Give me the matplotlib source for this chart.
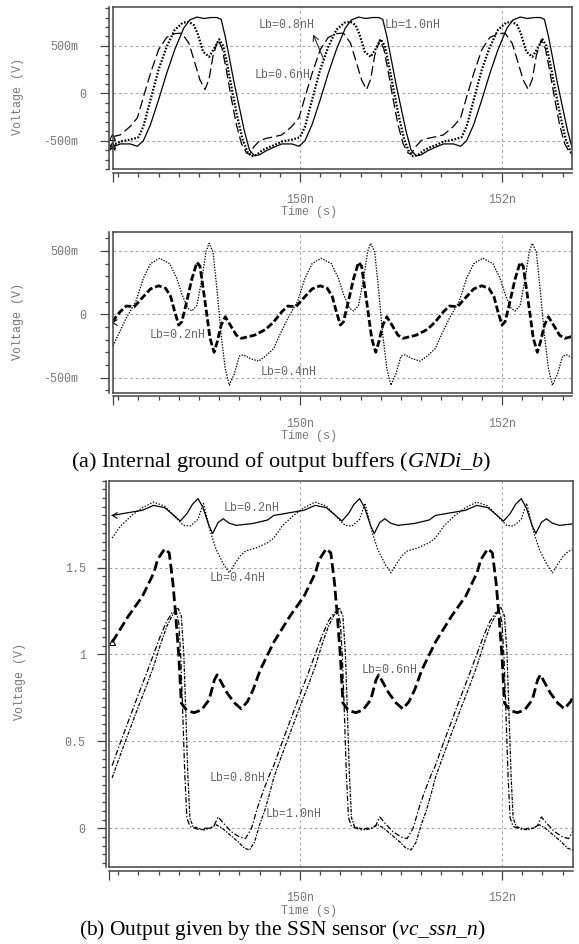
import matplotlib
matplotlib.use("Agg")
import matplotlib.pyplot as plt
from matplotlib.ticker import MultipleLocator, FixedLocator
from matplotlib.transforms import ScaledTranslation

plt.rcParams["font.family"] = "Liberation Mono"
plt.rcParams["lines.scale_dashes"] = False
plt.rcParams["mathtext.fontset"] = "custom"
plt.rcParams["mathtext.rm"] = "Liberation Serif"
plt.rcParams["mathtext.it"] = "Liberation Serif:italic"

# ---------------- panel (a) top: Lb = 1.0 / 0.8 / 0.6 nH
t_a10 = [148.14, 148.22, 148.32, 148.39, 148.45, 148.52, 148.60, 148.68, 148.76, 148.85, 148.91, 148.98, 149.05,
         149.12, 149.18, 149.22, 149.26, 149.30, 149.35, 149.40, 149.45, 149.50, 149.55, 149.60, 149.66,
         149.74, 149.82, 149.92, 149.99, 150.05, 150.12, 150.20, 150.28, 150.36, 150.45, 150.51, 150.58, 150.65,
         150.72, 150.78, 150.82, 150.86, 150.90, 150.95, 151.00, 151.05, 151.10, 151.15, 151.20, 151.26,
         151.34, 151.42, 151.52, 151.59, 151.65, 151.72, 151.80, 151.88, 151.96, 152.05, 152.11, 152.18, 152.25,
         152.32, 152.38, 152.42, 152.46, 152.50, 152.55, 152.60, 152.65, 152.70, 152.75]
v_a10 = [-0.57, -0.535, -0.535, -0.56, -0.50, -0.33, -0.07, 0.21, 0.46, 0.69, 0.775, 0.805, 0.79,
         0.80, 0.80, 0.78, 0.60, 0.38, 0.10, -0.15, -0.40, -0.60, -0.66, -0.65, -0.61,
         -0.57, -0.535, -0.535, -0.56, -0.50, -0.33, -0.07, 0.21, 0.46, 0.69, 0.775, 0.805, 0.79,
         0.80, 0.80, 0.78, 0.60, 0.38, 0.10, -0.15, -0.40, -0.60, -0.66, -0.65, -0.61,
         -0.57, -0.535, -0.535, -0.56, -0.50, -0.33, -0.07, 0.21, 0.46, 0.69, 0.775, 0.805, 0.79,
         0.80, 0.80, 0.78, 0.60, 0.38, 0.10, -0.15, -0.40, -0.60, -0.66]

t_a08 = [148.14, 148.22, 148.32, 148.40, 148.45, 148.52, 148.60, 148.68, 148.76, 148.84, 148.90, 148.95, 148.99,
         149.04, 149.10, 149.15, 149.20, 149.24, 149.28, 149.33, 149.38, 149.43, 149.48, 149.52, 149.57, 149.63, 149.69,
         149.74, 149.82, 149.92, 150.00, 150.05, 150.12, 150.20, 150.28, 150.36, 150.44, 150.50, 150.55, 150.59,
         150.64, 150.70, 150.75, 150.80, 150.84, 150.88, 150.93, 150.98, 151.03, 151.08, 151.12, 151.17, 151.23, 151.29,
         151.34, 151.42, 151.52, 151.60, 151.65, 151.72, 151.80, 151.88, 151.96, 152.04, 152.10, 152.15, 152.19,
         152.24, 152.30, 152.35, 152.40, 152.44, 152.48, 152.53, 152.58, 152.63, 152.68, 152.72]
v_a08 = [-0.55, -0.51, -0.49, -0.465, -0.35, -0.07, 0.25, 0.49, 0.67, 0.745, 0.755, 0.72, 0.62,
         0.44, 0.385, 0.47, 0.57, 0.50, 0.30, 0.02, -0.25, -0.48, -0.62, -0.665, -0.65, -0.60, -0.57,
         -0.55, -0.51, -0.49, -0.465, -0.35, -0.07, 0.25, 0.49, 0.67, 0.745, 0.755, 0.72, 0.62,
         0.44, 0.385, 0.47, 0.57, 0.50, 0.30, 0.02, -0.25, -0.48, -0.62, -0.665, -0.65, -0.60, -0.57,
         -0.55, -0.51, -0.49, -0.465, -0.35, -0.07, 0.25, 0.49, 0.67, 0.745, 0.755, 0.72, 0.62,
         0.44, 0.385, 0.47, 0.57, 0.50, 0.30, 0.02, -0.25, -0.48, -0.62, -0.665]

t_a06 = [148.14, 148.22, 148.32, 148.39, 148.45, 148.52, 148.60, 148.68, 148.76, 148.83, 148.90, 148.96, 149.01,
         149.06, 149.10, 149.14, 149.19, 149.23, 149.27, 149.32, 149.37, 149.42, 149.47, 149.50, 149.54, 149.60, 149.67,
         149.74, 149.82, 149.92, 149.99, 150.05, 150.12, 150.20, 150.28, 150.36, 150.43, 150.50, 150.56, 150.61,
         150.66, 150.70, 150.74, 150.79, 150.83, 150.87, 150.92, 150.97, 151.02, 151.07, 151.10, 151.14, 151.20, 151.27,
         151.34, 151.42, 151.52, 151.59, 151.65, 151.72, 151.80, 151.88, 151.96, 152.03, 152.10, 152.16, 152.21,
         152.26, 152.30, 152.34, 152.39, 152.43, 152.47, 152.52, 152.57, 152.62, 152.67, 152.70, 152.74]
v_a06 = [-0.46, -0.44, -0.35, -0.26, -0.04, 0.21, 0.46, 0.59, 0.63, 0.635, 0.53, 0.32, 0.14,
         0.04, 0.15, 0.40, 0.565, 0.47, 0.25, -0.05, -0.33, -0.53, -0.63, -0.645, -0.57, -0.50, -0.475,
         -0.46, -0.44, -0.35, -0.26, -0.04, 0.21, 0.46, 0.59, 0.63, 0.635, 0.53, 0.32, 0.14,
         0.04, 0.15, 0.40, 0.565, 0.47, 0.25, -0.05, -0.33, -0.53, -0.63, -0.645, -0.57, -0.50, -0.475,
         -0.46, -0.44, -0.35, -0.26, -0.04, 0.21, 0.46, 0.59, 0.63, 0.635, 0.53, 0.32, 0.14,
         0.04, 0.15, 0.40, 0.565, 0.47, 0.25, -0.05, -0.33, -0.53, -0.63, -0.645, -0.57]

# ---------------- panel (a) bottom: Lb = 0.2 / 0.4 nH
t_b02 = [148.14, 148.22, 148.28, 148.36, 148.45, 148.52, 148.60, 148.67, 148.72, 148.76, 148.80, 148.83, 148.87,
         148.93, 148.98, 149.01, 149.06, 149.11, 149.15, 149.18, 149.22, 149.26, 149.31, 149.37, 149.42, 149.55, 149.66,
         149.74, 149.82, 149.88, 149.96, 150.05, 150.12, 150.20, 150.27, 150.32, 150.36, 150.40, 150.43, 150.47,
         150.53, 150.58, 150.61, 150.66, 150.71, 150.75, 150.78, 150.82, 150.86, 150.91, 150.97, 151.02, 151.15, 151.26,
         151.34, 151.42, 151.48, 151.56, 151.65, 151.72, 151.80, 151.87, 151.92, 151.96, 152.00, 152.03, 152.07,
         152.13, 152.18, 152.21, 152.26, 152.31, 152.35, 152.38, 152.42, 152.46, 152.51, 152.57, 152.62, 152.75]
v_b02 = [-0.06, 0.02, 0.065, 0.06, 0.14, 0.20, 0.225, 0.205, 0.14, 0.02, -0.085, -0.06, 0.07,
         0.28, 0.41, 0.38, 0.10, -0.19, -0.30, -0.22, -0.085, -0.02, -0.085, -0.165, -0.19, -0.165, -0.12,
         -0.06, 0.02, 0.065, 0.06, 0.14, 0.20, 0.225, 0.205, 0.14, 0.02, -0.085, -0.06, 0.07,
         0.28, 0.41, 0.38, 0.10, -0.19, -0.30, -0.22, -0.085, -0.02, -0.085, -0.165, -0.19, -0.165, -0.12,
         -0.06, 0.02, 0.065, 0.06, 0.14, 0.20, 0.225, 0.205, 0.14, 0.02, -0.085, -0.06, 0.07,
         0.28, 0.41, 0.38, 0.10, -0.19, -0.30, -0.22, -0.085, -0.02, -0.085, -0.165, -0.19, -0.165]

t_b04 = [148.14, 148.19, 148.28, 148.375, 148.45, 148.52, 148.61, 148.71, 148.78, 148.835, 148.89, 148.93, 148.98,
         149.03, 149.07, 149.10, 149.14, 149.18, 149.22, 149.26, 149.30, 149.35, 149.40, 149.44, 149.51, 149.59, 149.66,
         149.74, 149.79, 149.88, 149.975, 150.05, 150.12, 150.21, 150.31, 150.38, 150.435, 150.49, 150.53, 150.58,
         150.63, 150.67, 150.70, 150.74, 150.78, 150.82, 150.86, 150.90, 150.95, 151.00, 151.04, 151.11, 151.19, 151.26,
         151.34, 151.39, 151.48, 151.575, 151.65, 151.72, 151.81, 151.91, 151.98, 152.035, 152.09, 152.13, 152.18,
         152.23, 152.27, 152.30, 152.34, 152.38, 152.42, 152.46, 152.50, 152.55, 152.60, 152.64, 152.71]
v_b04 = [-0.27, -0.18, -0.03, 0.10, 0.285, 0.40, 0.442, 0.40, 0.285, 0.15, 0.047, 0.026, 0.07,
         0.285, 0.495, 0.56, 0.49, 0.18, -0.165, -0.43, -0.56, -0.47, -0.33, -0.32, -0.35, -0.37, -0.33,
         -0.27, -0.18, -0.03, 0.10, 0.285, 0.40, 0.442, 0.40, 0.285, 0.15, 0.047, 0.026, 0.07,
         0.285, 0.495, 0.56, 0.49, 0.18, -0.165, -0.43, -0.56, -0.47, -0.33, -0.32, -0.35, -0.37, -0.33,
         -0.27, -0.18, -0.03, 0.10, 0.285, 0.40, 0.442, 0.40, 0.285, 0.15, 0.047, 0.026, 0.07,
         0.285, 0.495, 0.56, 0.49, 0.18, -0.165, -0.43, -0.56, -0.47, -0.33, -0.32, -0.35]

# ---------------- panel (b): vc_ssn_n, Lb = 0.2 ... 1.0 nH
t_c02 = [148.14, 148.30, 148.44, 148.55, 148.66, 148.74, 148.815, 148.88, 148.935, 148.99, 149.04, 149.10, 149.135,
         149.19, 149.24, 149.30, 149.37, 149.535, 149.68,
         149.74, 149.90, 150.04, 150.15, 150.26, 150.34, 150.415, 150.48, 150.535, 150.59, 150.64, 150.70, 150.735,
         150.79, 150.84, 150.90, 150.97, 151.135, 151.28,
         151.34, 151.50, 151.64, 151.75, 151.86, 151.94, 152.015, 152.08, 152.135, 152.19, 152.24, 152.30, 152.335,
         152.39, 152.44, 152.50, 152.57, 152.735]
v_c02 = [1.80, 1.816, 1.83, 1.858, 1.845, 1.806, 1.768, 1.81, 1.864, 1.897, 1.845, 1.739, 1.696,
         1.76, 1.781, 1.755, 1.743, 1.754, 1.774,
         1.80, 1.816, 1.83, 1.858, 1.845, 1.806, 1.768, 1.81, 1.864, 1.897, 1.845, 1.739, 1.696,
         1.76, 1.781, 1.755, 1.743, 1.754, 1.774,
         1.80, 1.816, 1.83, 1.858, 1.845, 1.806, 1.768, 1.81, 1.864, 1.897, 1.845, 1.739, 1.696,
         1.76, 1.781, 1.755, 1.743, 1.754]

t_c04 = [148.14, 148.225, 148.335, 148.44, 148.55, 148.66, 148.77, 148.845, 148.915, 148.99, 149.044, 149.116, 149.17,
         149.244, 149.30, 149.353, 149.407, 149.46, 149.57, 149.68,
         149.74, 149.825, 149.935, 150.04, 150.15, 150.26, 150.37, 150.445, 150.515, 150.59, 150.644, 150.716, 150.77,
         150.844, 150.90, 150.953, 151.007, 151.06, 151.17, 151.28,
         151.34, 151.425, 151.535, 151.64, 151.75, 151.86, 151.97, 152.045, 152.115, 152.19, 152.244, 152.316, 152.37,
         152.444, 152.50, 152.553, 152.607, 152.66, 152.77]
v_c04 = [1.67, 1.74, 1.80, 1.845, 1.877, 1.854, 1.787, 1.743, 1.739, 1.778, 1.87, 1.70, 1.604,
         1.518, 1.47, 1.52, 1.566, 1.595, 1.614, 1.643,
         1.67, 1.74, 1.80, 1.845, 1.877, 1.854, 1.787, 1.743, 1.739, 1.778, 1.87, 1.70, 1.604,
         1.518, 1.47, 1.52, 1.566, 1.595, 1.614, 1.643,
         1.67, 1.74, 1.80, 1.845, 1.877, 1.854, 1.787, 1.743, 1.739, 1.778, 1.87, 1.70, 1.604,
         1.518, 1.47, 1.52, 1.566, 1.595, 1.614]

t_c06 = [148.14, 148.30, 148.44, 148.553, 148.59, 148.66, 148.705, 148.742, 148.77, 148.80, 148.825, 148.88,
         148.953, 149.025, 149.10, 149.153, 149.18, 149.225, 149.28, 149.353, 149.418, 149.48, 149.535, 149.607,
         149.74, 149.90, 150.04, 150.153, 150.19, 150.26, 150.305, 150.342, 150.37, 150.40, 150.425, 150.48,
         150.553, 150.625, 150.70, 150.753, 150.78, 150.825, 150.88, 150.953, 151.018, 151.08, 151.135, 151.207,
         151.34, 151.50, 151.64, 151.753, 151.79, 151.86, 151.905, 151.942, 151.97, 152.00, 152.025, 152.08,
         152.153, 152.225, 152.30, 152.353, 152.38, 152.425, 152.48, 152.553, 152.618, 152.68, 152.735]
v_c06 = [1.07, 1.22, 1.335, 1.47, 1.546, 1.608, 1.585, 1.41, 1.22, 0.99, 0.72, 0.677,
         0.665, 0.681, 0.739, 0.854, 0.883, 0.835, 0.777, 0.72, 0.687, 0.729, 0.796, 0.912,
         1.07, 1.22, 1.335, 1.47, 1.546, 1.608, 1.585, 1.41, 1.22, 0.99, 0.72, 0.677,
         0.665, 0.681, 0.739, 0.854, 0.883, 0.835, 0.777, 0.72, 0.687, 0.729, 0.796, 0.912,
         1.07, 1.22, 1.335, 1.47, 1.546, 1.608, 1.585, 1.41, 1.22, 0.99, 0.72, 0.677,
         0.665, 0.681, 0.739, 0.854, 0.883, 0.835, 0.777, 0.72, 0.687, 0.729, 0.796]

t_c08 = [148.14, 148.22, 148.31, 148.40, 148.48, 148.55, 148.62, 148.68, 148.735, 148.775, 148.80, 148.82, 148.84,
         148.86, 148.88, 148.91, 148.96, 149.01, 149.06, 149.11, 149.15, 149.19, 149.24, 149.32, 149.40, 149.46,
         149.52, 149.58, 149.64, 149.70,
         149.74, 149.82, 149.91, 150.00, 150.08, 150.15, 150.22, 150.28, 150.335, 150.375, 150.40, 150.42, 150.44,
         150.46, 150.48, 150.51, 150.56, 150.61, 150.66, 150.71, 150.75, 150.79, 150.84, 150.92, 151.00, 151.06,
         151.12, 151.18, 151.24, 151.30,
         151.34, 151.42, 151.51, 151.60, 151.68, 151.75, 151.82, 151.88, 151.935, 151.975, 152.00, 152.02, 152.04,
         152.06, 152.08, 152.11, 152.16, 152.21, 152.26, 152.31, 152.35, 152.39, 152.44, 152.52, 152.60, 152.66,
         152.72]
v_c08 = [0.36, 0.49, 0.63, 0.77, 0.89, 1.00, 1.11, 1.19, 1.24, 1.25, 1.18, 0.98, 0.65,
         0.30, 0.06, 0.01, 0.0, -0.01, 0.0, 0.0, 0.015, 0.065, 0.03, -0.02, -0.05, -0.06,
         0.0, 0.12, 0.22, 0.31,
         0.36, 0.49, 0.63, 0.77, 0.89, 1.00, 1.11, 1.19, 1.24, 1.25, 1.18, 0.98, 0.65,
         0.30, 0.06, 0.01, 0.0, -0.01, 0.0, 0.0, 0.015, 0.065, 0.03, -0.02, -0.05, -0.06,
         0.0, 0.12, 0.22, 0.31,
         0.36, 0.49, 0.63, 0.77, 0.89, 1.00, 1.11, 1.19, 1.24, 1.25, 1.18, 0.98, 0.65,
         0.30, 0.06, 0.01, 0.0, -0.01, 0.0, 0.0, 0.015, 0.065, 0.03, -0.02, -0.05, -0.06,
         0.0]

t_c10 = [148.14, 148.22, 148.31, 148.40, 148.48, 148.55, 148.62, 148.68, 148.74, 148.79, 148.825, 148.85, 148.87,
         148.89, 148.91, 148.94, 148.99, 149.05, 149.11, 149.17, 149.23, 149.31, 149.39, 149.45, 149.50, 149.55,
         149.60, 149.65, 149.70,
         149.74, 149.82, 149.91, 150.00, 150.08, 150.15, 150.22, 150.28, 150.34, 150.39, 150.425, 150.45, 150.47,
         150.49, 150.51, 150.54, 150.59, 150.65, 150.71, 150.77, 150.83, 150.91, 150.99, 151.05, 151.10, 151.15,
         151.20, 151.25, 151.30,
         151.34, 151.42, 151.51, 151.60, 151.68, 151.75, 151.82, 151.88, 151.94, 151.99, 152.025, 152.05, 152.07,
         152.09, 152.11, 152.14, 152.19, 152.25, 152.31, 152.37, 152.43, 152.51, 152.59, 152.65, 152.70, 152.75]
v_c10 = [0.29, 0.42, 0.56, 0.70, 0.82, 0.93, 1.06, 1.16, 1.23, 1.27, 1.22, 1.00, 0.65,
         0.30, 0.06, 0.01, 0.0, -0.01, 0.0, 0.02, 0.0, -0.04, -0.08, -0.115, -0.125, -0.08,
         0.02, 0.10, 0.20,
         0.29, 0.42, 0.56, 0.70, 0.82, 0.93, 1.06, 1.16, 1.23, 1.27, 1.22, 1.00, 0.65,
         0.30, 0.06, 0.01, 0.0, -0.01, 0.0, 0.02, 0.0, -0.04, -0.08, -0.115, -0.125, -0.08,
         0.02, 0.10, 0.20,
         0.29, 0.42, 0.56, 0.70, 0.82, 0.93, 1.06, 1.16, 1.23, 1.27, 1.22, 1.00, 0.65,
         0.30, 0.06, 0.01, 0.0, -0.01, 0.0, 0.02, 0.0, -0.04, -0.08, -0.115, -0.125, -0.08]

x_major = [150, 152]
x_labels = ["150n", "152n"]
y_ticks_a = [-0.5, 0, 0.5]
y_labels_a = ["-500m", "0", "500m"]
y_ticks_b = [0, 0.5, 1, 1.5]
y_labels_b = ["0", "0.5", "1", "1.5"]

W, H = 579, 944
INK = "#444444"
TXT = "#777777"
FS = 8.4

fig = plt.figure(figsize=(W / 100, H / 100), dpi=100)


def rect(left, top, right, bottom):
    return [left / W, 1 - bottom / H, (right - left) / W, (bottom - top) / H]


def panel(box, xlim, ylim, yticks, ylabels, yminor, ypad, zero_shift=0):
    ax = fig.add_axes(box)
    ax.set_xlim(xlim)
    ax.set_ylim(ylim)
    ax.set_xticks(x_major)
    ax.set_yticks(yticks)
    ax.tick_params(length=0, labelbottom=False, labelleft=False)
    ax.grid(True, color="#a8a8a8", linestyle=(0, (2, 2)), linewidth=0.8)
    for s in ax.spines.values():
        s.set_color(INK)
        s.set_linewidth(1.1)

    # detached rulers below and left of the plot box
    ru = fig.add_axes(box)
    ru.patch.set_visible(False)
    ru.set_xlim(xlim)
    ru.set_ylim(ylim)
    ru.spines[["top", "right"]].set_visible(False)
    for side in ("left", "bottom"):
        ru.spines[side].set_position(("outward", 2.5))
        ru.spines[side].set_color(INK)
        ru.spines[side].set_linewidth(1.1)
    ru.xaxis.set_major_locator(FixedLocator([xlim[0]] + x_major))
    ru.set_xticklabels([""] + x_labels)
    ru.xaxis.set_minor_locator(MultipleLocator(0.2))
    ru.yaxis.set_major_locator(FixedLocator(yticks))
    ru.set_yticklabels(ylabels)
    ru.yaxis.set_minor_locator(MultipleLocator(yminor))
    ru.tick_params(which="major", direction="out", length=6.5, width=0.9, color=INK,
                   labelsize=FS, labelcolor=TXT)
    ru.tick_params(axis="x", which="major", pad=9)
    ru.tick_params(axis="y", which="major", pad=ypad)
    ru.tick_params(which="minor", direction="out", length=2.9, width=0.9, color=INK)
    if zero_shift:
        # the simulator prints the bare "0" label further right than the "500m" ones
        for tick, txt in zip(ru.yaxis.get_major_ticks(), ylabels):
            if txt == "0":
                tick.label1.set_transform(tick.label1.get_transform()
                                          + ScaledTranslation(zero_shift / 100, 0, fig.dpi_scale_trans))
    return ax


def label(ax, t, v, s):
    ax.text(t, v, s, fontsize=FS, color="#666666", va="center", ha="left")


def start_mark(ax, t, v, m):
    # small simulator trace-start glyph at the first sample
    ax.plot(t[:1], v[:1], linestyle="none", marker=m, ms=5, mew=0.8, mfc="none", mec="black",
            clip_on=False)


# ---- (a) upper
ax1 = panel(rect(112.7, 7.3, 572, 169.3), (148.146, 152.693), (-0.803, 0.908), y_ticks_a, y_labels_a, 0.1, 16,
            zero_shift=8)
ax1.plot(t_a10, v_a10, color="black", lw=0.9)
ax1.plot(t_a08, v_a08, color="black", lw=1.6, linestyle=(0, (1.2, 1.2)))
ax1.plot(t_a06, v_a06, color="black", lw=0.9, linestyle=(0, (7, 3)))
start_mark(ax1, t_a10, v_a10, "x")
start_mark(ax1, t_a08, v_a08, "^")
start_mark(ax1, t_a06, v_a06, "^")
label(ax1, 149.59, 0.72, "Lb=0.8nH")
label(ax1, 150.835, 0.72, "Lb=1.0nH")
label(ax1, 149.555, 0.193, "Lb=0.6nH")
ax1.annotate("", xy=(150.12, 0.65), xytext=(150.25, 0.317),
             arrowprops=dict(arrowstyle="->", color="#333333", lw=0.8))

# ---- (a) lower
ax2 = panel(rect(112.7, 232.3, 572, 392.7), (148.146, 152.693), (-0.619, 0.647), y_ticks_a, y_labels_a, 0.1, 16,
            zero_shift=8)
ax2.plot(t_b02, v_b02, color="black", lw=2.0, linestyle=(0, (5, 2)))
ax2.plot(t_b04, v_b04, color="black", lw=0.9, linestyle=(0, (1, 1)))
start_mark(ax2, t_b02, v_b02, 4)
label(ax2, 148.51, -0.163, "Lb=0.2nH")
label(ax2, 149.61, -0.453, "Lb=0.4nH")

# ---- (b)
ax3 = panel(rect(109.3, 480.7, 573, 867.3), (148.112, 152.703), (-0.225, 2.0), y_ticks_b, y_labels_b, 0.05, 8)
ax3.plot(t_c02, v_c02, color="black", lw=0.9)
ax3.plot(t_c04, v_c04, color="black", lw=0.9, linestyle=(0, (1, 1.2)))
ax3.plot(t_c06, v_c06, color="black", lw=2.0, linestyle=(0, (7, 3)))
ax3.plot(t_c08, v_c08, color="black", lw=0.9, linestyle=(0, (4, 1.5, 1, 1.5)))
ax3.plot(t_c10, v_c10, color="black", lw=0.9, linestyle=(0, (2.5, 1, 1, 1)))
start_mark(ax3, t_c02, v_c02, 4)
start_mark(ax3, t_c06, v_c06, "^")
label(ax3, 149.24, 1.845, "Lb=0.2nH")
label(ax3, 149.11, 1.44, "Lb=0.4nH")
label(ax3, 150.61, 0.908, "Lb=0.6nH")
label(ax3, 149.11, 0.287, "Lb=0.8nH")
label(ax3, 149.66, 0.081, "Lb=1.0nH")

# axis titles
for yc, yl_x, yl_y in ((212, 18.5, 96.7), (436, 18.5, 321.7), (910.7, 20, 682)):
    fig.text(309 / W, 1 - yc / H, "Time (s)", fontsize=FS, color=TXT, ha="center", va="center")
    fig.text(yl_x / W, 1 - yl_y / H, "Voltage (V)", fontsize=FS, color=TXT, ha="center", va="center",
             rotation=90)

fig.text(281 / W, 1 - 467 / H, r"(a) Internal ground of output buffers ($\mathit{GNDi\_b}$)",
         family="Liberation Serif", fontsize=16, ha="center", va="baseline")
fig.text(282 / W, 1 - 935 / H, r"(b) Output given by the SSN sensor ($\mathit{vc\_ssn\_n}$)",
         family="Liberation Serif", fontsize=15.5, ha="center", va="baseline")

fig.savefig("out.png", dpi=100)
